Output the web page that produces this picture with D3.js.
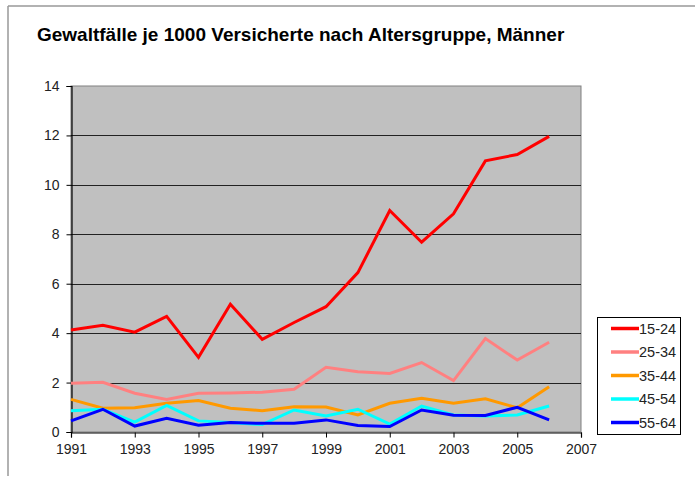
<!DOCTYPE html>
<html>
<head>
<meta charset="utf-8">
<script src="https://cdn.jsdelivr.net/npm/d3@7"></script>
<style>
  body { margin: 0; background: #fff; }
  svg { display: block; font-family: Arial, "Liberation Sans", sans-serif; }
</style>
</head>
<body>
<svg id="chart" width="695" height="479"></svg>
<script>
// Gewaltfälle je 1000 Versicherte, Männer, 1991-2006
const years = d3.range(1991, 2007);
const groups = ['15-24', '25-34', '35-44', '45-54', '55-64'];
const colors = ['#ff0000', '#ff8080', '#ff9900', '#00ffff', '#0000ff'];
const xTicks = [1991, 1993, 1995, 1997, 1999, 2001, 2003, 2005, 2007];
const yTicks = [0, 2, 4, 6, 8, 10, 12, 14];

const v15_24 = [4.13, 4.32, 4.04, 4.68, 3.02, 5.17, 3.75, 4.43, 5.07, 6.45, 8.96, 7.68, 8.83, 10.97, 11.23, 11.96];
const v25_34 = [1.97, 2.01, 1.57, 1.32, 1.57, 1.58, 1.61, 1.73, 2.62, 2.44, 2.37, 2.81, 2.08, 3.78, 2.91, 3.63];
const v35_44 = [1.32, 0.96, 0.98, 1.16, 1.27, 0.96, 0.86, 1.02, 1.01, 0.69, 1.16, 1.36, 1.16, 1.34, 0.98, 1.83];
const v45_54 = [0.86, 0.92, 0.40, 1.08, 0.45, 0.38, 0.30, 0.89, 0.65, 0.92, 0.32, 1.05, 0.69, 0.65, 0.69, 1.05];
const v55_64 = [0.45, 0.92, 0.24, 0.55, 0.27, 0.38, 0.35, 0.35, 0.49, 0.26, 0.22, 0.89, 0.68, 0.67, 1.00, 0.49];
const series = [v15_24, v25_34, v35_44, v45_54, v55_64];

const svg = d3.select('#chart');

// outer frame (top and left edge only)
svg.append('line').attr('x1', 8).attr('y1', 6).attr('x2', 695).attr('y2', 6)
  .attr('stroke', '#999').attr('stroke-width', 1.5);
svg.append('line').attr('x1', 8).attr('y1', 6).attr('x2', 8).attr('y2', 476)
  .attr('stroke', '#999').attr('stroke-width', 1.5);

svg.append('text')
  .attr('x', 37).attr('y', 41)
  .attr('font-size', 19).attr('font-weight', 'bold').attr('fill', '#000')
  .text('Gewaltfälle je 1000 Versicherte nach Altersgruppe, Männer');

const margin = { left: 71, top: 86, right: 581, bottom: 432 };
const x = d3.scaleLinear().domain([1991, 2007]).range([margin.left, margin.right]);
const y = d3.scaleLinear().domain([0, 14]).range([margin.bottom, margin.top]);

// plot area
svg.append('rect')
  .attr('x', margin.left).attr('y', margin.top)
  .attr('width', margin.right - margin.left).attr('height', margin.bottom - margin.top)
  .attr('fill', '#c0c0c0').attr('stroke', '#808080').attr('stroke-width', 1);

// gridlines
svg.append('g').selectAll('line')
  .data(yTicks.filter(d => d > 0 && d < 14))
  .enter().append('line')
  .attr('x1', margin.left).attr('x2', margin.right)
  .attr('y1', d => Math.round(y(d)) + 0.5).attr('y2', d => Math.round(y(d)) + 0.5)
  .attr('stroke', '#222').attr('stroke-width', 1);

// axes
const yAxis = svg.append('g')
  .attr('transform', `translate(${margin.left + 0.5},0)`)
  .call(d3.axisLeft(y).tickValues(yTicks).tickSize(5).tickPadding(7).tickFormat(d3.format('d')));
const xAxis = svg.append('g')
  .attr('transform', `translate(0,${margin.bottom + 0.5})`)
  .call(d3.axisBottom(x).tickValues(xTicks).tickSize(5).tickPadding(7).tickFormat(d3.format('d')));

[yAxis, xAxis].forEach(a => {
  a.select('.domain').attr('stroke', '#000').attr('stroke-width', 1.2);
  a.selectAll('.tick line').attr('stroke', '#000');
  a.selectAll('.tick text').attr('font-size', 14).attr('fill', '#222')
    .attr('font-family', 'Arial, "Liberation Sans", sans-serif');
});

// series lines
const line = d3.line().x((d, i) => x(years[i])).y(d => y(d));
svg.append('g').selectAll('path')
  .data(series)
  .enter().append('path')
  .attr('d', line)
  .attr('fill', 'none')
  .attr('stroke', (d, i) => colors[i])
  .attr('stroke-width', 3)
  .attr('stroke-linejoin', 'miter');

// legend
const legend = svg.append('g');
legend.append('rect')
  .attr('x', 597.5).attr('y', 317.5).attr('width', 83).attr('height', 117)
  .attr('fill', '#fff').attr('stroke', '#000').attr('stroke-width', 1);
const items = legend.selectAll('g.item')
  .data(groups)
  .enter().append('g')
  .attr('class', 'item')
  .attr('transform', (d, i) => `translate(0,${328.5 + i * 23.5})`);
items.append('line')
  .attr('x1', 611).attr('x2', 639)
  .attr('stroke', (d, i) => colors[i]).attr('stroke-width', 3.5);
items.append('text')
  .attr('x', 639).attr('y', 5)
  .attr('font-size', 14.5).attr('fill', '#222')
  .text(d => d);
</script>
</body>
</html>
